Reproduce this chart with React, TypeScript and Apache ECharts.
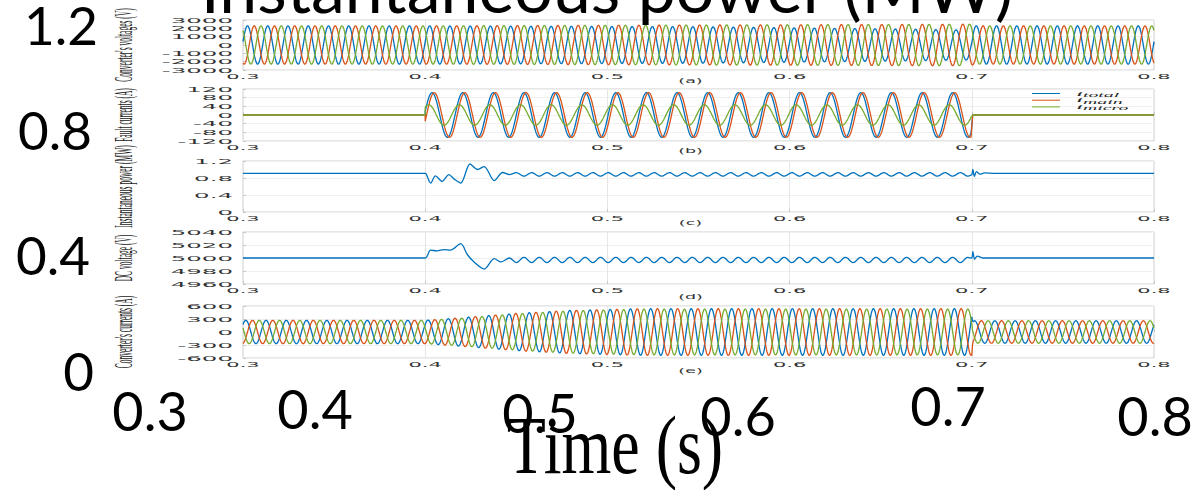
import React, { useEffect, useRef } from "react";
import * as echarts from "echarts";

// ---------------- outer overlay texts ----------------
const outerTitle = "Instantaneous power (MW)";
const outerXName = "Time (s)";
const outerYTickLabels = ["1.2", "0.8", "0.4", "0"];
const outerXTickLabels = ["0.3", "0.4", "0.5", "0.6", "0.7", "0.8"];

// ---------------- inner panels ----------------
const panelLetters = ["(a)", "(b)", "(c)", "(d)", "(e)"];
const panelYNames = [
  "Converter's voltages (V)",
  "Fault currents (A)",
  "Instantaneous power (MW)",
  "DC voltage (V)",
  "Converter's currents (A)",
];
const panelYTicks = [
  [3000, 2000, 1000, 0, -1000, -2000, -3000],
  [120, 80, 40, 0, -40, -80, -120],
  [1.2, 0.8, 0.4, 0],
  [5040, 5020, 5000, 4980, 4960],
  [600, 300, 0, -300, -600],
];
const timeTicksMs = [300, 400, 500, 600, 700, 800];
const timeTickLabels = ["0.3", "0.4", "0.5", "0.6", "0.7", "0.8"];
const faultLegendSubs = ["total", "main", "micro"];
const phaseColors = ["#0072BD", "#D95319", "#77AC30"];

// (a) converter voltages: envelope
const voltFreqHz = 90;
const voltPhaseDeg = [10, -110, 130];
const voltEnvMs = [300, 400, 550, 700, 701, 800];
const voltAmpBlue = [2300, 2300, 2200, 1800, 2300, 2300];
const voltAmpOrange = [2300, 2300, 2400, 2500, 2300, 2300];
const voltAmpGreen = [2300, 2300, 2400, 2500, 2300, 2300];

// (b) fault currents
const faultStartMs = 400;
const faultEndMs = 700;
const faultFreqHz = 59.5;
const faultAmp = [103, 103, 47];
const faultPhaseDeg = [9, -16, 49];

// (c) instantaneous power
const powerPreMs = [300, 400];
const powerPre = [0.91, 0.91];
const powerTransientMs = [400.5, 403, 405.6, 409.3, 413, 415.8, 419.5, 424.6, 428.7, 432.4, 437.9, 442.5, 446.2];
const powerTransient = [0.9, 0.68, 0.85, 0.72, 0.88, 0.78, 0.68, 1.13, 1.0, 1.07, 0.74, 0.93, 0.88];
const powerRipple = { startMs: 450, endMs: 699, mean: 0.885, amp: 0.04, phaseDeg: 90 };
const powerTailMs = [700, 700.6, 701.4, 702.6, 704.5, 707, 712, 800];
const powerTail = [0.88, 1.0, 0.84, 0.95, 0.89, 0.92, 0.91, 0.91];

// (d) DC voltage
const dcPreMs = [300, 400];
const dcPre = [5000, 5000];
const dcTransientMs = [402.9, 406.6, 410.3, 413.9, 419.5, 423.2, 426.8, 432.4, 437.9, 441.6, 446.2];
const dcTransient = [5012, 5011, 5013, 5012, 5022, 5005, 4994, 4983, 4999, 4994, 5000];
const dcRipple = { startMs: 450, endMs: 699, mean: 4997, amp: 4, phaseDeg: -90 };
const dcTailMs = [700, 700.6, 701.5, 703, 706, 800];
const dcTail = [5000, 5010, 4998, 5003, 5000, 5000];

// (e) converter currents
const curFreqHz = 90;
const curPhaseDeg = [40, -80, 160];
const curEnvMs = [300, 400, 420, 450, 480, 520, 700, 700.5, 800];
const curAmpBlue = [270, 270, 330, 430, 500, 540, 540, 260, 260];
const curAmpOrange = [270, 270, 330, 430, 500, 540, 540, 260, 260];
const curAmpGreen = [270, 270, 320, 420, 490, 530, 530, 260, 260];

const RIPPLE_HZ = 119;
const DT_MS = 0.4;

// ---------------- layout (pixels) ----------------
const GRID_LEFT = 243;
const GRID_RIGHT = 45;
const panelTop = [20, 89, 161, 232, 306];
const panelHeight = [50, 52, 51, 52, 52];
const letterY = [81, 151, 223, 297, 371];
const outerYPos = [
  [98, 24],
  [92, 129],
  [90, 254],
  [94, 370],
];
const outerXPos = [
  [150, 410],
  [315, 408],
  [540, 412],
  [738, 415],
  [948, 405],
  [1155, 415],
];

function envAt(envMs: number[], amps: number[], t: number) {
  if (t <= envMs[0]) return amps[0];
  for (let i = 1; i < envMs.length; i++) {
    if (t <= envMs[i]) {
      const f = (t - envMs[i - 1]) / (envMs[i] - envMs[i - 1]);
      return amps[i - 1] + f * (amps[i] - amps[i - 1]);
    }
  }
  return amps[amps.length - 1];
}

function carrier(envMs: number[], amps: number[], freq: number, phaseDeg: number, t0: number, t1: number, ref = 0) {
  const out: number[][] = [];
  for (let t = t0; t <= t1 + 1e-9; t += DT_MS) {
    const a = envAt(envMs, amps, t);
    out.push([t, a * Math.sin((2 * Math.PI * freq * (t - ref)) / 1000 + (phaseDeg * Math.PI) / 180)]);
  }
  return out;
}

function zip(ts: number[], vs: number[]) {
  return ts.map((t, i) => [t, vs[i]]);
}

function rippleSeg(r: { startMs: number; endMs: number; mean: number; amp: number; phaseDeg: number }) {
  return carrier([r.startMs, r.endMs], [r.amp, r.amp], RIPPLE_HZ, r.phaseDeg, r.startMs, r.endMs, r.startMs).map(
    (p) => [p[0], p[1] + r.mean]
  );
}

export default function App() {
  const ref = useRef<HTMLDivElement>(null);
  useEffect(() => {
    if (!ref.current) return;
    const chart = echarts.init(ref.current, null, { renderer: "svg" });

    const grids = panelTop.map((top, i) => ({
      left: GRID_LEFT,
      right: GRID_RIGHT,
      top,
      height: panelHeight[i],
      show: true,
      borderColor: "#cfcfcf",
      borderWidth: 1,
      backgroundColor: "transparent",
    }));
    const xAxes = panelTop.map((_, i) => ({
      type: "value",
      gridIndex: i,
      min: 300,
      max: 800,
      interval: 100,
      axisLabel: { show: false },
      axisLine: { show: false },
      axisTick: { show: true, inside: true, length: 3, lineStyle: { color: "#c8c8c8" } },
      splitLine: { show: true, lineStyle: { color: "#e6e6e6", width: 1 } },
    }));
    const yAxes = panelYTicks.map((ticks, i) => {
      const max = ticks[0];
      const min = ticks[ticks.length - 1];
      const step = Math.abs(ticks[0] - ticks[1]);
      return {
        type: "value",
        gridIndex: i,
        min,
        max,
        interval: step,
        axisLabel: { show: false },
        axisLine: { show: false },
        axisTick: { show: true, inside: true, length: 3, lineStyle: { color: "#c8c8c8" } },
        splitLine: { show: true, lineStyle: { color: "#f0f0f0", width: 1 } },
      };
    });

    const line = (name: string, idx: number, color: string, data: number[][], width = 1.3, smooth: any = false) => ({
      type: "line",
      name,
      xAxisIndex: idx,
      yAxisIndex: idx,
      data,
      showSymbol: false,
      symbol: "none",
      smooth,
      lineStyle: { color, width },
      itemStyle: { color },
      silent: true,
    });

    const voltAmps = [voltAmpBlue, voltAmpOrange, voltAmpGreen];
    const curAmps = [curAmpBlue, curAmpOrange, curAmpGreen];
    const series: any[] = [];
    voltAmps.forEach((amps, k) => {
      series.push(line("va" + k, 0, phaseColors[k], carrier(voltEnvMs, amps, voltFreqHz, voltPhaseDeg[k], 300, 800)));
    });
    faultAmp.forEach((a, k) => {
      const data = [
        [300, 0],
        [faultStartMs, 0],
        ...carrier([faultStartMs, faultEndMs], [a, a], faultFreqHz, faultPhaseDeg[k], faultStartMs, faultEndMs - 0.4, faultStartMs),
        [faultEndMs + 0.5, 0],
        [800, 0],
      ];
      series.push(line("if" + k, 1, phaseColors[k], data));
    });
    series.push(
      line(
        "p",
        2,
        phaseColors[0],
        [...zip(powerPreMs, powerPre), ...zip(powerTransientMs, powerTransient), ...rippleSeg(powerRipple), ...zip(powerTailMs, powerTail)],
        1.3,
        0.3
      )
    );
    series.push(
      line(
        "dc",
        3,
        phaseColors[0],
        [...zip(dcPreMs, dcPre), ...zip(dcTransientMs, dcTransient), ...rippleSeg(dcRipple), ...zip(dcTailMs, dcTail)],
        1.3,
        0.3
      )
    );
    curAmps.forEach((amps, k) => {
      series.push(line("ic" + k, 4, phaseColors[k], carrier(curEnvMs, amps, curFreqHz, curPhaseDeg[k], 300, 800)));
    });

    const option: any = {
      animation: false,
      backgroundColor: "#ffffff",
      grid: grids,
      xAxis: xAxes,
      yAxis: yAxes,
      series,
    };
    chart.setOption(option);

    const g: any[] = [];
    const smallFont = "DejaVu Sans";
    const txt = (text: string, x: number, y: number, align: string, fontSize: number, sx: number, sy = 1, extra: any = {}) => ({
      type: "text",
      x,
      y,
      scaleX: sx,
      scaleY: sy,
      silent: true,
      z: 100,
      style: {
        text,
        fontSize,
        fontFamily: extra.fontFamily || smallFont,
        fontStyle: extra.fontStyle || "normal",
        fill: extra.fill || "#333333",
        align,
        textAlign: align,
        verticalAlign: "middle",
        textVerticalAlign: "middle",
      },
    });

    panelYTicks.forEach((ticks, i) => {
      ticks.forEach((v) => {
        const p = chart.convertToPixel({ gridIndex: i } as any, [300, v]) as number[];
        g.push(txt(String(v), p[0] - 10, p[1], "right", 7, 3.5));
      });
      timeTicksMs.forEach((t, j) => {
        const p = chart.convertToPixel({ gridIndex: i } as any, [t, ticks[ticks.length - 1]]) as number[];
        g.push(txt(timeTickLabels[j], p[0], p[1] + 7, "center", 7, 3.0));
      });
      const mid = chart.convertToPixel({ gridIndex: i } as any, [550, (ticks[0] + ticks[ticks.length - 1]) / 2]) as number[];
      g.push(txt(panelLetters[i], mid[0] - 8, letterY[i], "center", 7, 2.5));
      g.push({
        type: "group",
        x: 123,
        y: mid[1],
        scaleX: 3.5,
        scaleY: 1,
        silent: true,
        children: [
          {
            type: "text",
            rotation: Math.PI / 2,
            silent: true,
            style: {
              text: panelYNames[i],
              fontSize: 7.5,
              fontFamily: "Liberation Serif",
              fill: "#222",
              align: "center",
              textAlign: "center",
              verticalAlign: "middle",
              textVerticalAlign: "middle",
            },
          },
        ],
      });
    });

    // legend of panel (b)
    faultLegendSubs.forEach((s, k) => {
      const y = 93.5 + k * 6.7;
      g.push({
        type: "line",
        silent: true,
        shape: { x1: 1032, y1: y, x2: 1060, y2: y },
        style: { stroke: phaseColors[k], lineWidth: 1 },
      });
      g.push({
        type: "text",
        x: 1076,
        y,
        scaleX: 3.6,
        silent: true,
        style: {
          text: "{i|i}{s|" + s + "}",
          rich: {
            i: { fontSize: 7, fontFamily: "Liberation Serif", fontStyle: "italic", fill: "#222" },
            s: { fontSize: 5.5, fontFamily: "Liberation Serif", fontStyle: "italic", fill: "#222", padding: [3, 0, 0, 0] },
          },
          align: "left",
          textAlign: "left",
          verticalAlign: "middle",
          textVerticalAlign: "middle",
        },
      });
    });

    // outer overlay
    const big = "Lato";
    outerYTickLabels.forEach((s, i) => {
      g.push(txt(s, outerYPos[i][0], outerYPos[i][1], "right", 53, 1, 1, { fontFamily: big, fill: "#000" }));
    });
    outerXTickLabels.forEach((s, i) => {
      g.push(txt(s, outerXPos[i][0], outerXPos[i][1], "center", 54, 1, 1, { fontFamily: big, fill: "#000" }));
    });
    g.push(txt(outerTitle, 607, -14, "center", 68, 1, 1, { fontFamily: big, fill: "#000" }));
    g.push(txt(outerXName, 615, 446, "center", 64, 1, 1.28, { fontFamily: "Liberation Serif", fill: "#000" }));

    chart.setOption({ graphic: g });

    return () => chart.dispose();
  }, []);

  return (
    <div
      ref={ref}
      style={{ position: "fixed", left: 0, top: 0, width: 1199, height: 490, background: "#fff" }}
    />
  );
}
